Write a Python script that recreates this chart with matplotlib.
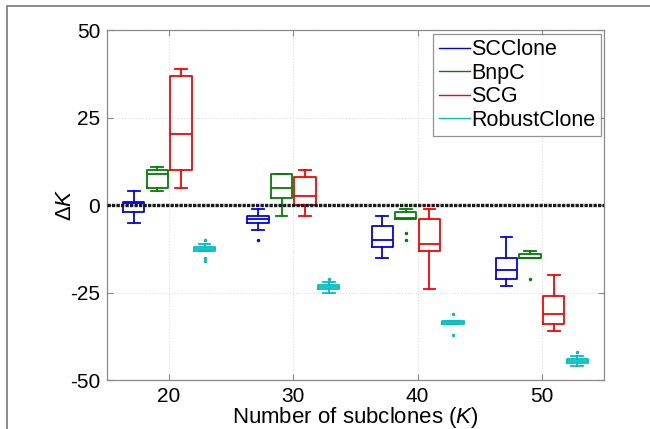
import matplotlib
matplotlib.use("Agg")
import matplotlib.pyplot as plt
from matplotlib.patches import Rectangle
from matplotlib.lines import Line2D

plt.rcParams['font.family'] = ['Liberation Sans', 'DejaVu Sans']
plt.rcParams['mathtext.fontset'] = 'custom'
plt.rcParams['mathtext.rm'] = 'Liberation Sans'
plt.rcParams['mathtext.it'] = 'Liberation Sans:italic'
plt.rcParams['axes.unicode_minus'] = False

groups = [20, 30, 40, 50]
methods = ["SCClone", "BnpC", "SCG", "RobustClone"]
colors = ["#0000ff", "#008000", "#ff0000", "#00bfbf"]

# per method: one entry per group, [whislo, q1, med, q3, whishi]
scclone = [[-5, -2, 0.6, 1, 4], [-7, -5, -4, -3, -1], [-15, -12, -10, -6, -3], [-23, -21, -18.6, -15, -9]]
bnpc = [[4, 5, 9, 10, 11], [-3, 2, 5, 9, 9], [-4, -4, -3.8, -2, -1], [-15, -15, -15, -14, -13]]
scg = [[5, 10, 20.4, 37, 39], [-3, 0, 2.5, 8, 10], [-24, -13, -11, -4, -1], [-36, -34, -31, -26, -20]]
robust = [[-13, -13, -12.5, -12, -11], [-25.2, -24.1, -23.5, -22.9, -22.1], [-34, -34, -33.5, -33, -33], [-46, -45, -44.5, -44, -43]]
series = [scclone, bnpc, scg, robust]

# outliers per method per group
scclone_out = [[], [-10], [], []]
bnpc_out = [[], [], [-8, -10], [-21]]
scg_out = [[], [], [], []]
robust_out = [[-10, -15, -16], [-21], [-31, -37], [-42]]
outliers = [scclone_out, bnpc_out, scg_out, robust_out]

offsets = [-2.85, -0.95, 0.95, 2.85]

fig = plt.figure(figsize=(6.5, 4.29), dpi=100)
ax = fig.add_axes([0.1646, 0.1142, 0.7646, 0.8158])

for m in range(4):
    stats = []
    for g in range(4):
        lo, q1, med, q3, hi = series[m][g]
        stats.append(dict(whislo=lo, q1=q1, med=med, q3=q3, whishi=hi, fliers=outliers[m][g]))
    pos = [k + offsets[m] for k in groups]
    c = colors[m]
    ax.bxp(stats, positions=pos, widths=1.72, capwidths=0.95, manage_ticks=False,
           boxprops=dict(color=c, lw=1.3), medianprops=dict(color=c, lw=1.3),
           whiskerprops=dict(color=c, lw=1.3), capprops=dict(color=c, lw=1.3),
           flierprops=dict(marker='.', markersize=3, markerfacecolor=c, markeredgecolor=c))

ax.axhline(0, color='#1a1a1a', lw=2.4, ls=(0, (1, 0.35)), zorder=5)

ax.set_xlim(15, 55)
ax.set_ylim(-50, 50)
ax.set_xticks(groups)
ax.set_yticks([-50, -25, 0, 25, 50])
ax.grid(True, color='#dcdcdc', ls=':', lw=0.8)
ax.set_axisbelow(True)
ax.tick_params(direction='in', top=True, right=True, labelsize=15, length=4, color='#888888', pad=5)
for s in ax.spines.values():
    s.set_color('#888888')
    s.set_linewidth(0.9)

ax.set_xlabel('Number of subclones ($\\mathit{K}$)', fontsize=16, labelpad=-1)
ax.set_ylabel('$\\Delta\\mathit{K}$', fontsize=16)
ax.yaxis.set_label_coords(-0.062, 0.5)

handles = [Line2D([], [], color=c, lw=1) for c in colors]
leg = ax.legend(handles, methods, loc='upper right', fontsize=15.5, fancybox=False,
                handlelength=1.45, handletextpad=0.08, borderpad=0.25, labelspacing=0.12,
                borderaxespad=0, bbox_to_anchor=(0.994, 0.989))
leg.get_frame().set_edgecolor('#777777')
leg.get_frame().set_linewidth(0.9)

fig.patches.append(Rectangle((7 / 650, -0.01), 1.1, 1 - 6 / 429 + 0.01, transform=fig.transFigure,
                             fill=False, edgecolor='#777777', lw=1.2))

fig.savefig("out.png", dpi=100)
